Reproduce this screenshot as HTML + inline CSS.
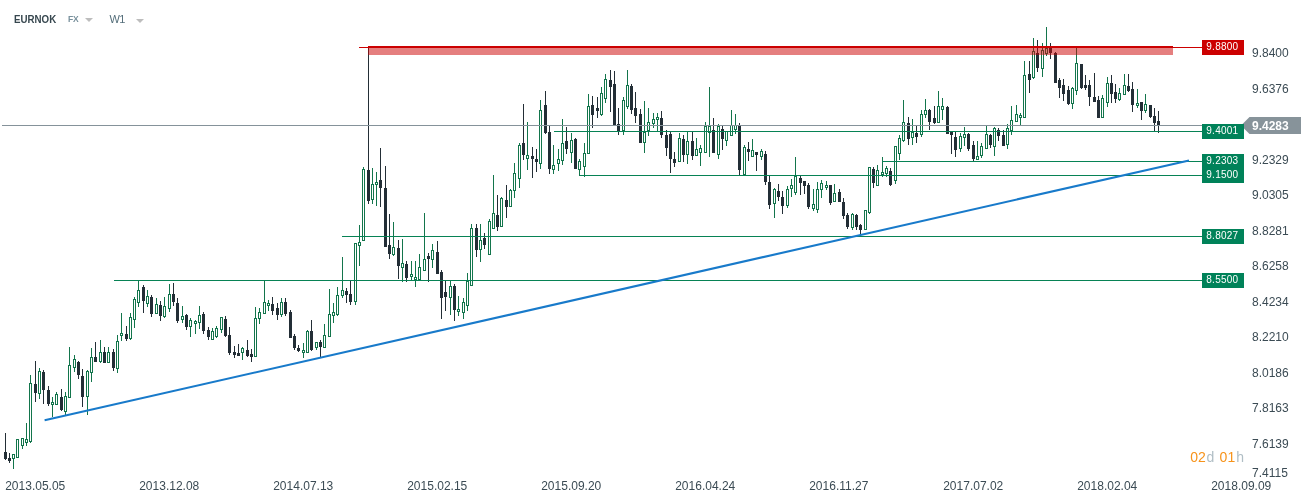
<!DOCTYPE html>
<html><head><meta charset="utf-8"><title>EURNOK W1</title>
<style>
html,body{margin:0;padding:0;background:#fff;}
body{width:1312px;height:503px;overflow:hidden;position:relative;font-family:"Liberation Sans",sans-serif;}
svg{position:absolute;left:0;top:0;display:block}
.ax{font:12px "Liberation Sans",sans-serif;fill:#3b4b54}
.lb{font:10px "Liberation Sans",sans-serif;fill:#fff;letter-spacing:0.25px}
.tg{font:bold 12px "Liberation Sans",sans-serif;fill:#fff}
.hd{position:absolute;top:0;left:0;white-space:nowrap}
.hd span{position:absolute;white-space:nowrap}
.sym{left:14px;top:12px;font:bold 11px/14px "Liberation Sans",sans-serif;color:#37474f;transform:scaleX(0.885);transform-origin:0 0}
.fx{left:68px;top:14px;font:bold 8.5px/10px "Liberation Sans",sans-serif;color:#78909c;letter-spacing:-0.3px}
.tf{left:109.6px;top:12px;font:11px/14px "Liberation Sans",sans-serif;color:#546e7a;letter-spacing:-0.8px}
.ar{width:0;height:0;border-left:4px solid transparent;border-right:4px solid transparent;border-top:4px solid #bdbdbd}
.tm{font:13px/16px "Liberation Sans",sans-serif}
</style></head><body>
<svg width="1312" height="503" viewBox="0 0 1312 503">
<g shape-rendering="crispEdges">
<rect x="5" y="433" width="1" height="27" fill="#232e36"/>
<rect x="4" y="452" width="3" height="7" fill="#232e36"/>
<rect x="9" y="453" width="1" height="10" fill="#232e36"/>
<rect x="8" y="458" width="3" height="3" fill="#232e36"/>
<rect x="13" y="454" width="1" height="15" fill="#13754c"/>
<rect x="12" y="454" width="3" height="5" fill="#13754c"/>
<rect x="13" y="455" width="1" height="3" fill="#fff"/>
<rect x="17" y="439" width="1" height="19" fill="#13754c"/>
<rect x="16" y="439" width="3" height="19" fill="#13754c"/>
<rect x="17" y="440" width="1" height="17" fill="#fff"/>
<rect x="22" y="438" width="1" height="11" fill="#13754c"/>
<rect x="21" y="438" width="3" height="8" fill="#13754c"/>
<rect x="22" y="439" width="1" height="6" fill="#fff"/>
<rect x="26" y="423" width="1" height="23" fill="#13754c"/>
<rect x="25" y="439" width="3" height="4" fill="#13754c"/>
<rect x="26" y="440" width="1" height="2" fill="#fff"/>
<rect x="30" y="375" width="1" height="68" fill="#13754c"/>
<rect x="29" y="383" width="3" height="59" fill="#13754c"/>
<rect x="30" y="384" width="1" height="57" fill="#fff"/>
<rect x="35" y="361" width="1" height="41" fill="#232e36"/>
<rect x="34" y="384" width="3" height="9" fill="#232e36"/>
<rect x="39" y="368" width="1" height="31" fill="#13754c"/>
<rect x="38" y="371" width="3" height="23" fill="#13754c"/>
<rect x="39" y="372" width="1" height="21" fill="#fff"/>
<rect x="43" y="370" width="1" height="34" fill="#232e36"/>
<rect x="42" y="372" width="3" height="18" fill="#232e36"/>
<rect x="48" y="386" width="1" height="20" fill="#232e36"/>
<rect x="47" y="390" width="3" height="14" fill="#232e36"/>
<rect x="52" y="397" width="1" height="20" fill="#13754c"/>
<rect x="51" y="402" width="3" height="3" fill="#13754c"/>
<rect x="52" y="403" width="1" height="1" fill="#fff"/>
<rect x="56" y="392" width="1" height="13" fill="#13754c"/>
<rect x="55" y="394" width="3" height="11" fill="#13754c"/>
<rect x="56" y="395" width="1" height="9" fill="#fff"/>
<rect x="61" y="389" width="1" height="22" fill="#232e36"/>
<rect x="60" y="397" width="3" height="13" fill="#232e36"/>
<rect x="65" y="392" width="1" height="23" fill="#13754c"/>
<rect x="64" y="396" width="3" height="16" fill="#13754c"/>
<rect x="65" y="397" width="1" height="14" fill="#fff"/>
<rect x="69" y="347" width="1" height="51" fill="#13754c"/>
<rect x="68" y="365" width="3" height="33" fill="#13754c"/>
<rect x="69" y="366" width="1" height="31" fill="#fff"/>
<rect x="74" y="355" width="1" height="17" fill="#13754c"/>
<rect x="73" y="359" width="3" height="9" fill="#13754c"/>
<rect x="74" y="360" width="1" height="7" fill="#fff"/>
<rect x="78" y="361" width="1" height="18" fill="#232e36"/>
<rect x="77" y="362" width="3" height="13" fill="#232e36"/>
<rect x="82" y="369" width="1" height="38" fill="#232e36"/>
<rect x="81" y="376" width="3" height="21" fill="#232e36"/>
<rect x="87" y="370" width="1" height="45" fill="#13754c"/>
<rect x="86" y="371" width="3" height="26" fill="#13754c"/>
<rect x="87" y="372" width="1" height="24" fill="#fff"/>
<rect x="91" y="348" width="1" height="34" fill="#13754c"/>
<rect x="90" y="357" width="3" height="16" fill="#13754c"/>
<rect x="91" y="358" width="1" height="14" fill="#fff"/>
<rect x="95" y="342" width="1" height="20" fill="#232e36"/>
<rect x="94" y="357" width="3" height="5" fill="#232e36"/>
<rect x="100" y="340" width="1" height="23" fill="#13754c"/>
<rect x="99" y="352" width="3" height="10" fill="#13754c"/>
<rect x="100" y="353" width="1" height="8" fill="#fff"/>
<rect x="104" y="347" width="1" height="16" fill="#232e36"/>
<rect x="103" y="352" width="3" height="11" fill="#232e36"/>
<rect x="108" y="347" width="1" height="16" fill="#13754c"/>
<rect x="107" y="352" width="3" height="11" fill="#13754c"/>
<rect x="108" y="353" width="1" height="9" fill="#fff"/>
<rect x="113" y="349" width="1" height="22" fill="#232e36"/>
<rect x="112" y="352" width="3" height="16" fill="#232e36"/>
<rect x="117" y="335" width="1" height="38" fill="#13754c"/>
<rect x="116" y="341" width="3" height="28" fill="#13754c"/>
<rect x="117" y="342" width="1" height="26" fill="#fff"/>
<rect x="121" y="313" width="1" height="28" fill="#13754c"/>
<rect x="120" y="333" width="3" height="3" fill="#13754c"/>
<rect x="121" y="334" width="1" height="1" fill="#fff"/>
<rect x="126" y="326" width="1" height="15" fill="#232e36"/>
<rect x="125" y="334" width="3" height="5" fill="#232e36"/>
<rect x="130" y="313" width="1" height="27" fill="#13754c"/>
<rect x="129" y="317" width="3" height="22" fill="#13754c"/>
<rect x="130" y="318" width="1" height="20" fill="#fff"/>
<rect x="134" y="297" width="1" height="31" fill="#13754c"/>
<rect x="133" y="299" width="3" height="21" fill="#13754c"/>
<rect x="134" y="300" width="1" height="19" fill="#fff"/>
<rect x="138" y="280" width="1" height="27" fill="#13754c"/>
<rect x="137" y="290" width="3" height="13" fill="#13754c"/>
<rect x="138" y="291" width="1" height="11" fill="#fff"/>
<rect x="143" y="285" width="1" height="28" fill="#232e36"/>
<rect x="142" y="287" width="3" height="14" fill="#232e36"/>
<rect x="147" y="290" width="1" height="17" fill="#13754c"/>
<rect x="146" y="296" width="3" height="8" fill="#13754c"/>
<rect x="147" y="297" width="1" height="6" fill="#fff"/>
<rect x="151" y="295" width="1" height="22" fill="#232e36"/>
<rect x="150" y="297" width="3" height="17" fill="#232e36"/>
<rect x="156" y="298" width="1" height="16" fill="#13754c"/>
<rect x="155" y="304" width="3" height="10" fill="#13754c"/>
<rect x="156" y="305" width="1" height="8" fill="#fff"/>
<rect x="160" y="301" width="1" height="20" fill="#232e36"/>
<rect x="159" y="305" width="3" height="11" fill="#232e36"/>
<rect x="164" y="297" width="1" height="21" fill="#13754c"/>
<rect x="163" y="306" width="3" height="11" fill="#13754c"/>
<rect x="164" y="307" width="1" height="9" fill="#fff"/>
<rect x="169" y="284" width="1" height="28" fill="#13754c"/>
<rect x="168" y="294" width="3" height="15" fill="#13754c"/>
<rect x="169" y="295" width="1" height="13" fill="#fff"/>
<rect x="173" y="283" width="1" height="23" fill="#232e36"/>
<rect x="172" y="294" width="3" height="8" fill="#232e36"/>
<rect x="177" y="298" width="1" height="25" fill="#232e36"/>
<rect x="176" y="303" width="3" height="18" fill="#232e36"/>
<rect x="182" y="306" width="1" height="17" fill="#13754c"/>
<rect x="181" y="316" width="3" height="4" fill="#13754c"/>
<rect x="182" y="317" width="1" height="2" fill="#fff"/>
<rect x="186" y="314" width="1" height="16" fill="#232e36"/>
<rect x="185" y="315" width="3" height="12" fill="#232e36"/>
<rect x="190" y="318" width="1" height="19" fill="#13754c"/>
<rect x="189" y="320" width="3" height="7" fill="#13754c"/>
<rect x="190" y="321" width="1" height="5" fill="#fff"/>
<rect x="195" y="320" width="1" height="14" fill="#13754c"/>
<rect x="194" y="321" width="3" height="3" fill="#13754c"/>
<rect x="195" y="322" width="1" height="1" fill="#fff"/>
<rect x="199" y="306" width="1" height="23" fill="#13754c"/>
<rect x="198" y="315" width="3" height="8" fill="#13754c"/>
<rect x="199" y="316" width="1" height="6" fill="#fff"/>
<rect x="203" y="312" width="1" height="22" fill="#232e36"/>
<rect x="202" y="314" width="3" height="17" fill="#232e36"/>
<rect x="208" y="327" width="1" height="13" fill="#232e36"/>
<rect x="207" y="330" width="3" height="7" fill="#232e36"/>
<rect x="212" y="328" width="1" height="12" fill="#13754c"/>
<rect x="211" y="331" width="3" height="9" fill="#13754c"/>
<rect x="212" y="332" width="1" height="7" fill="#fff"/>
<rect x="216" y="326" width="1" height="12" fill="#13754c"/>
<rect x="215" y="328" width="3" height="9" fill="#13754c"/>
<rect x="216" y="329" width="1" height="7" fill="#fff"/>
<rect x="221" y="317" width="1" height="16" fill="#13754c"/>
<rect x="220" y="317" width="3" height="13" fill="#13754c"/>
<rect x="221" y="318" width="1" height="11" fill="#fff"/>
<rect x="225" y="316" width="1" height="21" fill="#232e36"/>
<rect x="224" y="319" width="3" height="17" fill="#232e36"/>
<rect x="229" y="327" width="1" height="28" fill="#232e36"/>
<rect x="228" y="335" width="3" height="18" fill="#232e36"/>
<rect x="234" y="346" width="1" height="12" fill="#232e36"/>
<rect x="233" y="352" width="3" height="3" fill="#232e36"/>
<rect x="238" y="344" width="1" height="12" fill="#232e36"/>
<rect x="237" y="353" width="3" height="3" fill="#232e36"/>
<rect x="242" y="347" width="1" height="13" fill="#13754c"/>
<rect x="241" y="348" width="3" height="5" fill="#13754c"/>
<rect x="242" y="349" width="1" height="3" fill="#fff"/>
<rect x="247" y="340" width="1" height="17" fill="#232e36"/>
<rect x="246" y="350" width="3" height="6" fill="#232e36"/>
<rect x="251" y="349" width="1" height="13" fill="#232e36"/>
<rect x="250" y="354" width="3" height="3" fill="#232e36"/>
<rect x="255" y="307" width="1" height="50" fill="#13754c"/>
<rect x="254" y="318" width="3" height="39" fill="#13754c"/>
<rect x="255" y="319" width="1" height="37" fill="#fff"/>
<rect x="259" y="308" width="1" height="16" fill="#13754c"/>
<rect x="258" y="312" width="3" height="7" fill="#13754c"/>
<rect x="259" y="313" width="1" height="5" fill="#fff"/>
<rect x="264" y="280" width="1" height="34" fill="#13754c"/>
<rect x="263" y="302" width="3" height="12" fill="#13754c"/>
<rect x="264" y="303" width="1" height="10" fill="#fff"/>
<rect x="268" y="300" width="1" height="11" fill="#13754c"/>
<rect x="267" y="303" width="3" height="3" fill="#13754c"/>
<rect x="268" y="304" width="1" height="1" fill="#fff"/>
<rect x="272" y="297" width="1" height="18" fill="#232e36"/>
<rect x="271" y="304" width="3" height="7" fill="#232e36"/>
<rect x="277" y="303" width="1" height="17" fill="#232e36"/>
<rect x="276" y="308" width="3" height="7" fill="#232e36"/>
<rect x="281" y="298" width="1" height="19" fill="#13754c"/>
<rect x="280" y="302" width="3" height="13" fill="#13754c"/>
<rect x="281" y="303" width="1" height="11" fill="#fff"/>
<rect x="285" y="298" width="1" height="18" fill="#232e36"/>
<rect x="284" y="302" width="3" height="12" fill="#232e36"/>
<rect x="290" y="310" width="1" height="28" fill="#232e36"/>
<rect x="289" y="312" width="3" height="26" fill="#232e36"/>
<rect x="294" y="334" width="1" height="16" fill="#232e36"/>
<rect x="293" y="336" width="3" height="12" fill="#232e36"/>
<rect x="298" y="345" width="1" height="7" fill="#232e36"/>
<rect x="297" y="348" width="3" height="3" fill="#232e36"/>
<rect x="303" y="343" width="1" height="15" fill="#13754c"/>
<rect x="302" y="350" width="3" height="3" fill="#13754c"/>
<rect x="303" y="351" width="1" height="1" fill="#fff"/>
<rect x="307" y="330" width="1" height="23" fill="#13754c"/>
<rect x="306" y="331" width="3" height="22" fill="#13754c"/>
<rect x="307" y="332" width="1" height="20" fill="#fff"/>
<rect x="311" y="320" width="1" height="31" fill="#232e36"/>
<rect x="310" y="331" width="3" height="19" fill="#232e36"/>
<rect x="316" y="342" width="1" height="8" fill="#13754c"/>
<rect x="315" y="342" width="3" height="6" fill="#13754c"/>
<rect x="316" y="343" width="1" height="4" fill="#fff"/>
<rect x="320" y="340" width="1" height="17" fill="#232e36"/>
<rect x="319" y="342" width="3" height="5" fill="#232e36"/>
<rect x="324" y="324" width="1" height="24" fill="#13754c"/>
<rect x="323" y="335" width="3" height="13" fill="#13754c"/>
<rect x="324" y="336" width="1" height="11" fill="#fff"/>
<rect x="329" y="289" width="1" height="48" fill="#13754c"/>
<rect x="328" y="314" width="3" height="23" fill="#13754c"/>
<rect x="329" y="315" width="1" height="21" fill="#fff"/>
<rect x="333" y="303" width="1" height="20" fill="#13754c"/>
<rect x="332" y="312" width="3" height="4" fill="#13754c"/>
<rect x="333" y="313" width="1" height="2" fill="#fff"/>
<rect x="337" y="287" width="1" height="29" fill="#13754c"/>
<rect x="336" y="295" width="3" height="20" fill="#13754c"/>
<rect x="337" y="296" width="1" height="18" fill="#fff"/>
<rect x="342" y="257" width="1" height="41" fill="#13754c"/>
<rect x="341" y="290" width="3" height="6" fill="#13754c"/>
<rect x="342" y="291" width="1" height="4" fill="#fff"/>
<rect x="346" y="288" width="1" height="15" fill="#232e36"/>
<rect x="345" y="291" width="3" height="4" fill="#232e36"/>
<rect x="350" y="281" width="1" height="24" fill="#232e36"/>
<rect x="349" y="294" width="3" height="8" fill="#232e36"/>
<rect x="355" y="243" width="1" height="62" fill="#13754c"/>
<rect x="354" y="243" width="3" height="59" fill="#13754c"/>
<rect x="355" y="244" width="1" height="57" fill="#fff"/>
<rect x="359" y="225" width="1" height="41" fill="#13754c"/>
<rect x="358" y="242" width="3" height="4" fill="#13754c"/>
<rect x="359" y="243" width="1" height="2" fill="#fff"/>
<rect x="363" y="167" width="1" height="74" fill="#13754c"/>
<rect x="362" y="169" width="3" height="72" fill="#13754c"/>
<rect x="363" y="170" width="1" height="70" fill="#fff"/>
<rect x="368" y="47" width="1" height="157" fill="#232e36"/>
<rect x="367" y="170" width="3" height="31" fill="#232e36"/>
<rect x="372" y="168" width="1" height="36" fill="#13754c"/>
<rect x="371" y="184" width="3" height="16" fill="#13754c"/>
<rect x="372" y="185" width="1" height="14" fill="#fff"/>
<rect x="376" y="172" width="1" height="34" fill="#13754c"/>
<rect x="375" y="182" width="3" height="3" fill="#13754c"/>
<rect x="376" y="183" width="1" height="1" fill="#fff"/>
<rect x="380" y="148" width="1" height="59" fill="#232e36"/>
<rect x="379" y="180" width="3" height="8" fill="#232e36"/>
<rect x="385" y="166" width="1" height="81" fill="#232e36"/>
<rect x="384" y="188" width="3" height="59" fill="#232e36"/>
<rect x="389" y="214" width="1" height="45" fill="#232e36"/>
<rect x="388" y="245" width="3" height="9" fill="#232e36"/>
<rect x="393" y="222" width="1" height="34" fill="#13754c"/>
<rect x="392" y="247" width="3" height="8" fill="#13754c"/>
<rect x="393" y="248" width="1" height="6" fill="#fff"/>
<rect x="398" y="240" width="1" height="39" fill="#232e36"/>
<rect x="397" y="248" width="3" height="18" fill="#232e36"/>
<rect x="402" y="239" width="1" height="43" fill="#13754c"/>
<rect x="401" y="263" width="3" height="5" fill="#13754c"/>
<rect x="402" y="264" width="1" height="3" fill="#fff"/>
<rect x="406" y="261" width="1" height="21" fill="#232e36"/>
<rect x="405" y="264" width="3" height="14" fill="#232e36"/>
<rect x="411" y="261" width="1" height="19" fill="#13754c"/>
<rect x="410" y="274" width="3" height="3" fill="#13754c"/>
<rect x="411" y="275" width="1" height="1" fill="#fff"/>
<rect x="415" y="261" width="1" height="26" fill="#13754c"/>
<rect x="414" y="277" width="3" height="3" fill="#13754c"/>
<rect x="415" y="278" width="1" height="1" fill="#fff"/>
<rect x="419" y="254" width="1" height="26" fill="#13754c"/>
<rect x="418" y="267" width="3" height="13" fill="#13754c"/>
<rect x="419" y="268" width="1" height="11" fill="#fff"/>
<rect x="424" y="213" width="1" height="58" fill="#13754c"/>
<rect x="423" y="259" width="3" height="12" fill="#13754c"/>
<rect x="424" y="260" width="1" height="10" fill="#fff"/>
<rect x="428" y="253" width="1" height="29" fill="#232e36"/>
<rect x="427" y="256" width="3" height="3" fill="#232e36"/>
<rect x="432" y="244" width="1" height="24" fill="#13754c"/>
<rect x="431" y="250" width="3" height="10" fill="#13754c"/>
<rect x="432" y="251" width="1" height="8" fill="#fff"/>
<rect x="437" y="241" width="1" height="33" fill="#232e36"/>
<rect x="436" y="252" width="3" height="22" fill="#232e36"/>
<rect x="441" y="270" width="1" height="49" fill="#232e36"/>
<rect x="440" y="272" width="3" height="26" fill="#232e36"/>
<rect x="445" y="281" width="1" height="30" fill="#232e36"/>
<rect x="444" y="292" width="3" height="5" fill="#232e36"/>
<rect x="450" y="281" width="1" height="34" fill="#13754c"/>
<rect x="449" y="286" width="3" height="12" fill="#13754c"/>
<rect x="450" y="287" width="1" height="10" fill="#fff"/>
<rect x="454" y="284" width="1" height="37" fill="#232e36"/>
<rect x="453" y="286" width="3" height="24" fill="#232e36"/>
<rect x="458" y="296" width="1" height="20" fill="#13754c"/>
<rect x="457" y="309" width="3" height="3" fill="#13754c"/>
<rect x="458" y="310" width="1" height="1" fill="#fff"/>
<rect x="463" y="298" width="1" height="21" fill="#13754c"/>
<rect x="462" y="302" width="3" height="11" fill="#13754c"/>
<rect x="463" y="303" width="1" height="9" fill="#fff"/>
<rect x="467" y="273" width="1" height="38" fill="#13754c"/>
<rect x="466" y="281" width="3" height="25" fill="#13754c"/>
<rect x="467" y="282" width="1" height="23" fill="#fff"/>
<rect x="471" y="224" width="1" height="62" fill="#13754c"/>
<rect x="470" y="228" width="3" height="58" fill="#13754c"/>
<rect x="471" y="229" width="1" height="56" fill="#fff"/>
<rect x="476" y="224" width="1" height="33" fill="#232e36"/>
<rect x="475" y="228" width="3" height="22" fill="#232e36"/>
<rect x="480" y="224" width="1" height="38" fill="#13754c"/>
<rect x="479" y="240" width="3" height="10" fill="#13754c"/>
<rect x="480" y="241" width="1" height="8" fill="#fff"/>
<rect x="484" y="233" width="1" height="16" fill="#232e36"/>
<rect x="483" y="238" width="3" height="7" fill="#232e36"/>
<rect x="489" y="219" width="1" height="36" fill="#13754c"/>
<rect x="488" y="221" width="3" height="34" fill="#13754c"/>
<rect x="489" y="222" width="1" height="32" fill="#fff"/>
<rect x="493" y="175" width="1" height="54" fill="#13754c"/>
<rect x="492" y="213" width="3" height="16" fill="#13754c"/>
<rect x="493" y="214" width="1" height="14" fill="#fff"/>
<rect x="497" y="195" width="1" height="36" fill="#232e36"/>
<rect x="496" y="215" width="3" height="12" fill="#232e36"/>
<rect x="501" y="197" width="1" height="30" fill="#13754c"/>
<rect x="500" y="198" width="3" height="29" fill="#13754c"/>
<rect x="501" y="199" width="1" height="27" fill="#fff"/>
<rect x="506" y="185" width="1" height="33" fill="#232e36"/>
<rect x="505" y="200" width="3" height="7" fill="#232e36"/>
<rect x="510" y="189" width="1" height="18" fill="#13754c"/>
<rect x="509" y="190" width="3" height="17" fill="#13754c"/>
<rect x="510" y="191" width="1" height="15" fill="#fff"/>
<rect x="514" y="163" width="1" height="35" fill="#13754c"/>
<rect x="513" y="173" width="3" height="18" fill="#13754c"/>
<rect x="514" y="174" width="1" height="16" fill="#fff"/>
<rect x="519" y="143" width="1" height="45" fill="#13754c"/>
<rect x="518" y="145" width="3" height="34" fill="#13754c"/>
<rect x="519" y="146" width="1" height="32" fill="#fff"/>
<rect x="523" y="104" width="1" height="56" fill="#232e36"/>
<rect x="522" y="143" width="3" height="12" fill="#232e36"/>
<rect x="527" y="122" width="1" height="48" fill="#13754c"/>
<rect x="526" y="155" width="3" height="4" fill="#13754c"/>
<rect x="527" y="156" width="1" height="2" fill="#fff"/>
<rect x="532" y="147" width="1" height="31" fill="#232e36"/>
<rect x="531" y="156" width="3" height="3" fill="#232e36"/>
<rect x="536" y="149" width="1" height="23" fill="#232e36"/>
<rect x="535" y="159" width="3" height="3" fill="#232e36"/>
<rect x="540" y="100" width="1" height="69" fill="#13754c"/>
<rect x="539" y="110" width="3" height="54" fill="#13754c"/>
<rect x="540" y="111" width="1" height="52" fill="#fff"/>
<rect x="545" y="91" width="1" height="43" fill="#232e36"/>
<rect x="544" y="105" width="3" height="28" fill="#232e36"/>
<rect x="549" y="126" width="1" height="48" fill="#232e36"/>
<rect x="548" y="132" width="3" height="37" fill="#232e36"/>
<rect x="553" y="145" width="1" height="29" fill="#13754c"/>
<rect x="552" y="165" width="3" height="5" fill="#13754c"/>
<rect x="553" y="166" width="1" height="3" fill="#fff"/>
<rect x="558" y="149" width="1" height="22" fill="#13754c"/>
<rect x="557" y="159" width="3" height="5" fill="#13754c"/>
<rect x="558" y="160" width="1" height="3" fill="#fff"/>
<rect x="562" y="119" width="1" height="46" fill="#13754c"/>
<rect x="561" y="143" width="3" height="18" fill="#13754c"/>
<rect x="562" y="144" width="1" height="16" fill="#fff"/>
<rect x="566" y="127" width="1" height="27" fill="#232e36"/>
<rect x="565" y="141" width="3" height="8" fill="#232e36"/>
<rect x="571" y="133" width="1" height="30" fill="#13754c"/>
<rect x="570" y="140" width="3" height="13" fill="#13754c"/>
<rect x="571" y="141" width="1" height="11" fill="#fff"/>
<rect x="575" y="138" width="1" height="31" fill="#232e36"/>
<rect x="574" y="139" width="3" height="30" fill="#232e36"/>
<rect x="579" y="159" width="1" height="17" fill="#13754c"/>
<rect x="578" y="161" width="3" height="9" fill="#13754c"/>
<rect x="579" y="162" width="1" height="7" fill="#fff"/>
<rect x="584" y="143" width="1" height="34" fill="#13754c"/>
<rect x="583" y="153" width="3" height="14" fill="#13754c"/>
<rect x="584" y="154" width="1" height="12" fill="#fff"/>
<rect x="588" y="94" width="1" height="60" fill="#13754c"/>
<rect x="587" y="106" width="3" height="48" fill="#13754c"/>
<rect x="588" y="107" width="1" height="46" fill="#fff"/>
<rect x="592" y="96" width="1" height="32" fill="#232e36"/>
<rect x="591" y="105" width="3" height="10" fill="#232e36"/>
<rect x="597" y="97" width="1" height="21" fill="#232e36"/>
<rect x="596" y="108" width="3" height="3" fill="#232e36"/>
<rect x="601" y="87" width="1" height="29" fill="#13754c"/>
<rect x="600" y="93" width="3" height="22" fill="#13754c"/>
<rect x="601" y="94" width="1" height="20" fill="#fff"/>
<rect x="605" y="74" width="1" height="29" fill="#13754c"/>
<rect x="604" y="79" width="3" height="20" fill="#13754c"/>
<rect x="605" y="80" width="1" height="18" fill="#fff"/>
<rect x="610" y="70" width="1" height="42" fill="#232e36"/>
<rect x="609" y="80" width="3" height="7" fill="#232e36"/>
<rect x="614" y="71" width="1" height="54" fill="#232e36"/>
<rect x="613" y="84" width="3" height="41" fill="#232e36"/>
<rect x="618" y="108" width="1" height="27" fill="#232e36"/>
<rect x="617" y="124" width="3" height="7" fill="#232e36"/>
<rect x="623" y="97" width="1" height="38" fill="#13754c"/>
<rect x="622" y="100" width="3" height="31" fill="#13754c"/>
<rect x="623" y="101" width="1" height="29" fill="#fff"/>
<rect x="627" y="70" width="1" height="39" fill="#13754c"/>
<rect x="626" y="85" width="3" height="22" fill="#13754c"/>
<rect x="627" y="86" width="1" height="20" fill="#fff"/>
<rect x="631" y="84" width="1" height="30" fill="#232e36"/>
<rect x="630" y="86" width="3" height="24" fill="#232e36"/>
<rect x="635" y="92" width="1" height="31" fill="#232e36"/>
<rect x="634" y="108" width="3" height="8" fill="#232e36"/>
<rect x="640" y="109" width="1" height="34" fill="#232e36"/>
<rect x="639" y="114" width="3" height="29" fill="#232e36"/>
<rect x="644" y="101" width="1" height="52" fill="#13754c"/>
<rect x="643" y="132" width="3" height="11" fill="#13754c"/>
<rect x="644" y="133" width="1" height="9" fill="#fff"/>
<rect x="648" y="108" width="1" height="28" fill="#13754c"/>
<rect x="647" y="122" width="3" height="9" fill="#13754c"/>
<rect x="648" y="123" width="1" height="7" fill="#fff"/>
<rect x="653" y="113" width="1" height="15" fill="#13754c"/>
<rect x="652" y="119" width="3" height="5" fill="#13754c"/>
<rect x="653" y="120" width="1" height="3" fill="#fff"/>
<rect x="657" y="113" width="1" height="18" fill="#13754c"/>
<rect x="656" y="117" width="3" height="3" fill="#13754c"/>
<rect x="657" y="118" width="1" height="1" fill="#fff"/>
<rect x="661" y="111" width="1" height="27" fill="#232e36"/>
<rect x="660" y="118" width="3" height="17" fill="#232e36"/>
<rect x="666" y="130" width="1" height="26" fill="#232e36"/>
<rect x="665" y="135" width="3" height="13" fill="#232e36"/>
<rect x="670" y="131" width="1" height="42" fill="#232e36"/>
<rect x="669" y="134" width="3" height="25" fill="#232e36"/>
<rect x="674" y="152" width="1" height="15" fill="#232e36"/>
<rect x="673" y="159" width="3" height="4" fill="#232e36"/>
<rect x="679" y="133" width="1" height="29" fill="#13754c"/>
<rect x="678" y="138" width="3" height="24" fill="#13754c"/>
<rect x="679" y="139" width="1" height="22" fill="#fff"/>
<rect x="683" y="135" width="1" height="27" fill="#232e36"/>
<rect x="682" y="139" width="3" height="16" fill="#232e36"/>
<rect x="687" y="131" width="1" height="33" fill="#13754c"/>
<rect x="686" y="141" width="3" height="14" fill="#13754c"/>
<rect x="687" y="142" width="1" height="12" fill="#fff"/>
<rect x="692" y="131" width="1" height="29" fill="#232e36"/>
<rect x="691" y="141" width="3" height="15" fill="#232e36"/>
<rect x="696" y="138" width="1" height="18" fill="#13754c"/>
<rect x="695" y="149" width="3" height="7" fill="#13754c"/>
<rect x="696" y="150" width="1" height="5" fill="#fff"/>
<rect x="700" y="145" width="1" height="21" fill="#13754c"/>
<rect x="699" y="148" width="3" height="5" fill="#13754c"/>
<rect x="700" y="149" width="1" height="3" fill="#fff"/>
<rect x="705" y="122" width="1" height="31" fill="#13754c"/>
<rect x="704" y="126" width="3" height="27" fill="#13754c"/>
<rect x="705" y="127" width="1" height="25" fill="#fff"/>
<rect x="709" y="87" width="1" height="70" fill="#13754c"/>
<rect x="708" y="126" width="3" height="7" fill="#13754c"/>
<rect x="709" y="127" width="1" height="5" fill="#fff"/>
<rect x="713" y="118" width="1" height="35" fill="#232e36"/>
<rect x="712" y="130" width="3" height="23" fill="#232e36"/>
<rect x="718" y="124" width="1" height="35" fill="#13754c"/>
<rect x="717" y="126" width="3" height="29" fill="#13754c"/>
<rect x="718" y="127" width="1" height="27" fill="#fff"/>
<rect x="722" y="126" width="1" height="24" fill="#232e36"/>
<rect x="721" y="129" width="3" height="10" fill="#232e36"/>
<rect x="726" y="131" width="1" height="15" fill="#13754c"/>
<rect x="725" y="131" width="3" height="10" fill="#13754c"/>
<rect x="726" y="132" width="1" height="8" fill="#fff"/>
<rect x="731" y="110" width="1" height="26" fill="#13754c"/>
<rect x="730" y="125" width="3" height="11" fill="#13754c"/>
<rect x="731" y="126" width="1" height="9" fill="#fff"/>
<rect x="735" y="114" width="1" height="20" fill="#13754c"/>
<rect x="734" y="125" width="3" height="5" fill="#13754c"/>
<rect x="735" y="126" width="1" height="3" fill="#fff"/>
<rect x="739" y="123" width="1" height="52" fill="#232e36"/>
<rect x="738" y="126" width="3" height="44" fill="#232e36"/>
<rect x="744" y="145" width="1" height="30" fill="#13754c"/>
<rect x="743" y="147" width="3" height="28" fill="#13754c"/>
<rect x="744" y="148" width="1" height="26" fill="#fff"/>
<rect x="748" y="142" width="1" height="19" fill="#232e36"/>
<rect x="747" y="149" width="3" height="3" fill="#232e36"/>
<rect x="752" y="139" width="1" height="18" fill="#13754c"/>
<rect x="751" y="150" width="3" height="7" fill="#13754c"/>
<rect x="752" y="151" width="1" height="5" fill="#fff"/>
<rect x="756" y="152" width="1" height="19" fill="#232e36"/>
<rect x="755" y="152" width="3" height="3" fill="#232e36"/>
<rect x="761" y="149" width="1" height="11" fill="#13754c"/>
<rect x="760" y="151" width="3" height="6" fill="#13754c"/>
<rect x="761" y="152" width="1" height="4" fill="#fff"/>
<rect x="765" y="151" width="1" height="34" fill="#232e36"/>
<rect x="764" y="154" width="3" height="28" fill="#232e36"/>
<rect x="769" y="176" width="1" height="33" fill="#232e36"/>
<rect x="768" y="182" width="3" height="23" fill="#232e36"/>
<rect x="774" y="188" width="1" height="30" fill="#13754c"/>
<rect x="773" y="189" width="3" height="15" fill="#13754c"/>
<rect x="774" y="190" width="1" height="13" fill="#fff"/>
<rect x="778" y="184" width="1" height="17" fill="#232e36"/>
<rect x="777" y="191" width="3" height="6" fill="#232e36"/>
<rect x="782" y="191" width="1" height="23" fill="#232e36"/>
<rect x="781" y="197" width="3" height="9" fill="#232e36"/>
<rect x="787" y="186" width="1" height="22" fill="#13754c"/>
<rect x="786" y="189" width="3" height="17" fill="#13754c"/>
<rect x="787" y="190" width="1" height="15" fill="#fff"/>
<rect x="791" y="179" width="1" height="18" fill="#13754c"/>
<rect x="790" y="185" width="3" height="4" fill="#13754c"/>
<rect x="791" y="186" width="1" height="2" fill="#fff"/>
<rect x="795" y="157" width="1" height="38" fill="#13754c"/>
<rect x="794" y="176" width="3" height="17" fill="#13754c"/>
<rect x="795" y="177" width="1" height="15" fill="#fff"/>
<rect x="800" y="175" width="1" height="20" fill="#232e36"/>
<rect x="799" y="178" width="3" height="5" fill="#232e36"/>
<rect x="804" y="181" width="1" height="13" fill="#232e36"/>
<rect x="803" y="181" width="3" height="5" fill="#232e36"/>
<rect x="808" y="183" width="1" height="26" fill="#232e36"/>
<rect x="807" y="185" width="3" height="22" fill="#232e36"/>
<rect x="813" y="189" width="1" height="22" fill="#13754c"/>
<rect x="812" y="204" width="3" height="5" fill="#13754c"/>
<rect x="813" y="205" width="1" height="3" fill="#fff"/>
<rect x="817" y="182" width="1" height="31" fill="#13754c"/>
<rect x="816" y="189" width="3" height="21" fill="#13754c"/>
<rect x="817" y="190" width="1" height="19" fill="#fff"/>
<rect x="821" y="180" width="1" height="18" fill="#13754c"/>
<rect x="820" y="183" width="3" height="7" fill="#13754c"/>
<rect x="821" y="184" width="1" height="5" fill="#fff"/>
<rect x="826" y="181" width="1" height="9" fill="#13754c"/>
<rect x="825" y="185" width="3" height="3" fill="#13754c"/>
<rect x="826" y="186" width="1" height="1" fill="#fff"/>
<rect x="830" y="185" width="1" height="20" fill="#232e36"/>
<rect x="829" y="185" width="3" height="18" fill="#232e36"/>
<rect x="834" y="184" width="1" height="18" fill="#13754c"/>
<rect x="833" y="193" width="3" height="9" fill="#13754c"/>
<rect x="834" y="194" width="1" height="7" fill="#fff"/>
<rect x="839" y="189" width="1" height="13" fill="#232e36"/>
<rect x="838" y="192" width="3" height="10" fill="#232e36"/>
<rect x="843" y="198" width="1" height="21" fill="#232e36"/>
<rect x="842" y="202" width="3" height="14" fill="#232e36"/>
<rect x="847" y="213" width="1" height="16" fill="#232e36"/>
<rect x="846" y="215" width="3" height="12" fill="#232e36"/>
<rect x="852" y="213" width="1" height="17" fill="#13754c"/>
<rect x="851" y="214" width="3" height="14" fill="#13754c"/>
<rect x="852" y="215" width="1" height="12" fill="#fff"/>
<rect x="856" y="214" width="1" height="16" fill="#232e36"/>
<rect x="855" y="215" width="3" height="12" fill="#232e36"/>
<rect x="860" y="224" width="1" height="11" fill="#232e36"/>
<rect x="859" y="225" width="3" height="5" fill="#232e36"/>
<rect x="865" y="210" width="1" height="20" fill="#13754c"/>
<rect x="864" y="210" width="3" height="20" fill="#13754c"/>
<rect x="865" y="211" width="1" height="18" fill="#fff"/>
<rect x="869" y="167" width="1" height="47" fill="#13754c"/>
<rect x="868" y="167" width="3" height="46" fill="#13754c"/>
<rect x="869" y="168" width="1" height="44" fill="#fff"/>
<rect x="873" y="167" width="1" height="21" fill="#232e36"/>
<rect x="872" y="169" width="3" height="14" fill="#232e36"/>
<rect x="877" y="165" width="1" height="21" fill="#13754c"/>
<rect x="876" y="170" width="3" height="16" fill="#13754c"/>
<rect x="877" y="171" width="1" height="14" fill="#fff"/>
<rect x="882" y="157" width="1" height="20" fill="#13754c"/>
<rect x="881" y="172" width="3" height="3" fill="#13754c"/>
<rect x="882" y="173" width="1" height="1" fill="#fff"/>
<rect x="886" y="166" width="1" height="11" fill="#13754c"/>
<rect x="885" y="168" width="3" height="6" fill="#13754c"/>
<rect x="886" y="169" width="1" height="4" fill="#fff"/>
<rect x="890" y="168" width="1" height="18" fill="#232e36"/>
<rect x="889" y="171" width="3" height="14" fill="#232e36"/>
<rect x="895" y="146" width="1" height="38" fill="#13754c"/>
<rect x="894" y="146" width="3" height="35" fill="#13754c"/>
<rect x="895" y="147" width="1" height="33" fill="#fff"/>
<rect x="899" y="135" width="1" height="25" fill="#13754c"/>
<rect x="898" y="138" width="3" height="16" fill="#13754c"/>
<rect x="899" y="139" width="1" height="14" fill="#fff"/>
<rect x="903" y="100" width="1" height="42" fill="#13754c"/>
<rect x="902" y="122" width="3" height="19" fill="#13754c"/>
<rect x="903" y="123" width="1" height="17" fill="#fff"/>
<rect x="908" y="117" width="1" height="28" fill="#232e36"/>
<rect x="907" y="123" width="3" height="16" fill="#232e36"/>
<rect x="912" y="119" width="1" height="26" fill="#13754c"/>
<rect x="911" y="132" width="3" height="6" fill="#13754c"/>
<rect x="912" y="133" width="1" height="4" fill="#fff"/>
<rect x="916" y="126" width="1" height="17" fill="#232e36"/>
<rect x="915" y="133" width="3" height="4" fill="#232e36"/>
<rect x="921" y="110" width="1" height="27" fill="#13754c"/>
<rect x="920" y="114" width="3" height="21" fill="#13754c"/>
<rect x="921" y="115" width="1" height="19" fill="#fff"/>
<rect x="925" y="99" width="1" height="19" fill="#13754c"/>
<rect x="924" y="110" width="3" height="5" fill="#13754c"/>
<rect x="925" y="111" width="1" height="3" fill="#fff"/>
<rect x="929" y="109" width="1" height="21" fill="#232e36"/>
<rect x="928" y="110" width="3" height="12" fill="#232e36"/>
<rect x="934" y="106" width="1" height="18" fill="#232e36"/>
<rect x="933" y="118" width="3" height="5" fill="#232e36"/>
<rect x="938" y="91" width="1" height="32" fill="#13754c"/>
<rect x="937" y="106" width="3" height="17" fill="#13754c"/>
<rect x="938" y="107" width="1" height="15" fill="#fff"/>
<rect x="942" y="98" width="1" height="22" fill="#13754c"/>
<rect x="941" y="106" width="3" height="4" fill="#13754c"/>
<rect x="942" y="107" width="1" height="2" fill="#fff"/>
<rect x="947" y="106" width="1" height="28" fill="#232e36"/>
<rect x="946" y="107" width="3" height="27" fill="#232e36"/>
<rect x="951" y="131" width="1" height="23" fill="#232e36"/>
<rect x="950" y="132" width="3" height="3" fill="#232e36"/>
<rect x="955" y="132" width="1" height="25" fill="#232e36"/>
<rect x="954" y="137" width="3" height="13" fill="#232e36"/>
<rect x="960" y="133" width="1" height="19" fill="#13754c"/>
<rect x="959" y="136" width="3" height="13" fill="#13754c"/>
<rect x="960" y="137" width="1" height="11" fill="#fff"/>
<rect x="964" y="127" width="1" height="19" fill="#13754c"/>
<rect x="963" y="134" width="3" height="4" fill="#13754c"/>
<rect x="964" y="135" width="1" height="2" fill="#fff"/>
<rect x="968" y="133" width="1" height="18" fill="#232e36"/>
<rect x="967" y="134" width="3" height="15" fill="#232e36"/>
<rect x="973" y="141" width="1" height="20" fill="#232e36"/>
<rect x="972" y="145" width="3" height="14" fill="#232e36"/>
<rect x="977" y="141" width="1" height="19" fill="#13754c"/>
<rect x="976" y="156" width="3" height="4" fill="#13754c"/>
<rect x="977" y="157" width="1" height="2" fill="#fff"/>
<rect x="981" y="143" width="1" height="15" fill="#13754c"/>
<rect x="980" y="146" width="3" height="10" fill="#13754c"/>
<rect x="981" y="147" width="1" height="8" fill="#fff"/>
<rect x="986" y="126" width="1" height="23" fill="#13754c"/>
<rect x="985" y="134" width="3" height="15" fill="#13754c"/>
<rect x="986" y="135" width="1" height="13" fill="#fff"/>
<rect x="990" y="134" width="1" height="14" fill="#232e36"/>
<rect x="989" y="135" width="3" height="10" fill="#232e36"/>
<rect x="994" y="127" width="1" height="29" fill="#13754c"/>
<rect x="993" y="128" width="3" height="19" fill="#13754c"/>
<rect x="994" y="129" width="1" height="17" fill="#fff"/>
<rect x="998" y="128" width="1" height="13" fill="#232e36"/>
<rect x="997" y="130" width="3" height="6" fill="#232e36"/>
<rect x="1003" y="130" width="1" height="16" fill="#232e36"/>
<rect x="1002" y="135" width="3" height="11" fill="#232e36"/>
<rect x="1007" y="124" width="1" height="25" fill="#13754c"/>
<rect x="1006" y="128" width="3" height="17" fill="#13754c"/>
<rect x="1007" y="129" width="1" height="15" fill="#fff"/>
<rect x="1011" y="106" width="1" height="29" fill="#13754c"/>
<rect x="1010" y="120" width="3" height="11" fill="#13754c"/>
<rect x="1011" y="121" width="1" height="9" fill="#fff"/>
<rect x="1016" y="105" width="1" height="17" fill="#13754c"/>
<rect x="1015" y="114" width="3" height="8" fill="#13754c"/>
<rect x="1016" y="115" width="1" height="6" fill="#fff"/>
<rect x="1020" y="113" width="1" height="12" fill="#13754c"/>
<rect x="1019" y="115" width="3" height="3" fill="#13754c"/>
<rect x="1020" y="116" width="1" height="1" fill="#fff"/>
<rect x="1024" y="61" width="1" height="57" fill="#13754c"/>
<rect x="1023" y="75" width="3" height="43" fill="#13754c"/>
<rect x="1024" y="76" width="1" height="41" fill="#fff"/>
<rect x="1029" y="61" width="1" height="32" fill="#232e36"/>
<rect x="1028" y="74" width="3" height="6" fill="#232e36"/>
<rect x="1033" y="38" width="1" height="41" fill="#13754c"/>
<rect x="1032" y="51" width="3" height="27" fill="#13754c"/>
<rect x="1033" y="52" width="1" height="25" fill="#fff"/>
<rect x="1037" y="40" width="1" height="32" fill="#232e36"/>
<rect x="1036" y="53" width="3" height="15" fill="#232e36"/>
<rect x="1042" y="43" width="1" height="34" fill="#13754c"/>
<rect x="1041" y="50" width="3" height="19" fill="#13754c"/>
<rect x="1042" y="51" width="1" height="17" fill="#fff"/>
<rect x="1046" y="27" width="1" height="29" fill="#13754c"/>
<rect x="1045" y="48" width="3" height="6" fill="#13754c"/>
<rect x="1046" y="49" width="1" height="4" fill="#fff"/>
<rect x="1050" y="43" width="1" height="16" fill="#232e36"/>
<rect x="1049" y="47" width="3" height="6" fill="#232e36"/>
<rect x="1055" y="52" width="1" height="31" fill="#232e36"/>
<rect x="1054" y="53" width="3" height="30" fill="#232e36"/>
<rect x="1059" y="78" width="1" height="20" fill="#232e36"/>
<rect x="1058" y="80" width="3" height="8" fill="#232e36"/>
<rect x="1063" y="79" width="1" height="22" fill="#232e36"/>
<rect x="1062" y="85" width="3" height="9" fill="#232e36"/>
<rect x="1068" y="86" width="1" height="19" fill="#232e36"/>
<rect x="1067" y="90" width="3" height="14" fill="#232e36"/>
<rect x="1072" y="87" width="1" height="22" fill="#13754c"/>
<rect x="1071" y="88" width="3" height="16" fill="#13754c"/>
<rect x="1072" y="89" width="1" height="14" fill="#fff"/>
<rect x="1076" y="48" width="1" height="47" fill="#13754c"/>
<rect x="1075" y="63" width="3" height="28" fill="#13754c"/>
<rect x="1076" y="64" width="1" height="26" fill="#fff"/>
<rect x="1081" y="64" width="1" height="25" fill="#232e36"/>
<rect x="1080" y="64" width="3" height="24" fill="#232e36"/>
<rect x="1085" y="75" width="1" height="15" fill="#232e36"/>
<rect x="1084" y="85" width="3" height="3" fill="#232e36"/>
<rect x="1089" y="80" width="1" height="26" fill="#232e36"/>
<rect x="1088" y="85" width="3" height="12" fill="#232e36"/>
<rect x="1094" y="73" width="1" height="29" fill="#232e36"/>
<rect x="1093" y="97" width="3" height="5" fill="#232e36"/>
<rect x="1098" y="96" width="1" height="22" fill="#232e36"/>
<rect x="1097" y="100" width="3" height="18" fill="#232e36"/>
<rect x="1102" y="95" width="1" height="23" fill="#13754c"/>
<rect x="1101" y="98" width="3" height="20" fill="#13754c"/>
<rect x="1102" y="99" width="1" height="18" fill="#fff"/>
<rect x="1107" y="77" width="1" height="30" fill="#13754c"/>
<rect x="1106" y="83" width="3" height="20" fill="#13754c"/>
<rect x="1107" y="84" width="1" height="18" fill="#fff"/>
<rect x="1111" y="75" width="1" height="28" fill="#232e36"/>
<rect x="1110" y="83" width="3" height="11" fill="#232e36"/>
<rect x="1115" y="84" width="1" height="19" fill="#232e36"/>
<rect x="1114" y="92" width="3" height="7" fill="#232e36"/>
<rect x="1119" y="88" width="1" height="13" fill="#13754c"/>
<rect x="1118" y="93" width="3" height="7" fill="#13754c"/>
<rect x="1119" y="94" width="1" height="5" fill="#fff"/>
<rect x="1124" y="74" width="1" height="21" fill="#13754c"/>
<rect x="1123" y="85" width="3" height="10" fill="#13754c"/>
<rect x="1124" y="86" width="1" height="8" fill="#fff"/>
<rect x="1128" y="74" width="1" height="18" fill="#232e36"/>
<rect x="1127" y="86" width="3" height="5" fill="#232e36"/>
<rect x="1132" y="82" width="1" height="30" fill="#232e36"/>
<rect x="1131" y="89" width="3" height="16" fill="#232e36"/>
<rect x="1137" y="89" width="1" height="19" fill="#13754c"/>
<rect x="1136" y="103" width="3" height="3" fill="#13754c"/>
<rect x="1137" y="104" width="1" height="1" fill="#fff"/>
<rect x="1141" y="102" width="1" height="18" fill="#232e36"/>
<rect x="1140" y="102" width="3" height="9" fill="#232e36"/>
<rect x="1145" y="94" width="1" height="19" fill="#13754c"/>
<rect x="1144" y="104" width="3" height="7" fill="#13754c"/>
<rect x="1145" y="105" width="1" height="5" fill="#fff"/>
<rect x="1150" y="105" width="1" height="13" fill="#232e36"/>
<rect x="1149" y="105" width="3" height="12" fill="#232e36"/>
<rect x="1154" y="108" width="1" height="23" fill="#232e36"/>
<rect x="1153" y="116" width="3" height="7" fill="#232e36"/>
<rect x="1158" y="111" width="1" height="22" fill="#232e36"/>
<rect x="1157" y="121" width="3" height="4" fill="#232e36"/>
</g>
<g shape-rendering="crispEdges">
<rect x="2" y="125" width="1247" height="1" fill="#85929a"/>
<rect x="554" y="131" width="648" height="1" fill="#078255"/>
<rect x="882" y="161" width="320" height="1" fill="#078255"/>
<rect x="580" y="175" width="622" height="1" fill="#078255"/>
<rect x="342" y="236" width="860" height="1" fill="#078255"/>
<rect x="114" y="280" width="1088" height="1" fill="#078255"/>
<rect x="359" y="47" width="843" height="1" fill="#cc0000"/>
<rect x="368" y="48" width="805" height="7" fill="#cc0000" fill-opacity="0.5"/>
<rect x="368" y="46" width="805" height="2" fill="#cc0000"/>
<rect x="1202" y="40" width="42" height="15" fill="#cc0000"/><text x="1206.3" y="50" class="lb">9.8800</text>
</g>
<line x1="44.6" y1="420.3" x2="1189" y2="160.4" stroke="#187aca" stroke-width="2.1"/>
<path d="M1241 125.5 L1249.5 117 H1301 V134 H1249.5 Z" fill="#87939a"/><text x="1252" y="130" class="tg">9.4283</text>
<g shape-rendering="crispEdges">
<rect x="1202" y="124" width="42" height="15" fill="#008259"/><text x="1206.3" y="134" class="lb">9.4001</text>
<rect x="1202" y="168" width="42" height="15" fill="#008259"/><text x="1206.3" y="178" class="lb">9.1500</text>
<rect x="1202" y="154" width="42" height="15" fill="#008259"/><text x="1206.3" y="164" class="lb">9.2303</text>
<rect x="1202" y="229" width="42" height="15" fill="#008259"/><text x="1206.3" y="239" class="lb">8.8027</text>
<rect x="1202" y="273" width="42" height="15" fill="#008259"/><text x="1206.3" y="283" class="lb">8.5500</text>
</g>
<text x="1252" y="57" class="ax">9.8400</text>
<text x="1252" y="93" class="ax">9.6376</text>
<text x="1252" y="164" class="ax">9.2329</text>
<text x="1252" y="199" class="ax">9.0305</text>
<text x="1252" y="235" class="ax">8.8281</text>
<text x="1252" y="270" class="ax">8.6258</text>
<text x="1252" y="306" class="ax">8.4234</text>
<text x="1252" y="341" class="ax">8.2210</text>
<text x="1252" y="377" class="ax">8.0186</text>
<text x="1252" y="412" class="ax">7.8163</text>
<text x="1252" y="448" class="ax">7.6139</text>
<text x="1252" y="477" class="ax">7.4115</text>
<text x="5.2" y="490" class="ax">2013.05.05</text>
<text x="139.2" y="490" class="ax">2013.12.08</text>
<text x="273.2" y="490" class="ax">2014.07.13</text>
<text x="407.2" y="490" class="ax">2015.02.15</text>
<text x="541.2" y="490" class="ax">2015.09.20</text>
<text x="675.2" y="490" class="ax">2016.04.24</text>
<text x="809.2" y="490" class="ax">2016.11.27</text>
<text x="943.2" y="490" class="ax">2017.07.02</text>
<text x="1077.2" y="490" class="ax">2018.02.04</text>
<text x="1211.2" y="490" class="ax">2018.09.09</text>
<text x="1190.3" y="462" class="tmx" style="font:14px 'Liberation Sans',sans-serif;fill:#f7931a">02</text>
<text x="1206.4" y="462" style="font:14px 'Liberation Sans',sans-serif;fill:#b0bec5">d</text>
<text x="1219.6" y="462" style="font:14px 'Liberation Sans',sans-serif;fill:#f7931a">01</text>
<text x="1236.3" y="462" style="font:14px 'Liberation Sans',sans-serif;fill:#b0bec5">h</text>
</svg>
<div class="hd"><span class="sym">EURNOK</span><span class="fx">FX</span><span class="ar" style="left:85px;top:18px"></span><span class="tf">W1</span><span class="ar" style="left:136px;top:18.5px"></span></div>
</body></html>
